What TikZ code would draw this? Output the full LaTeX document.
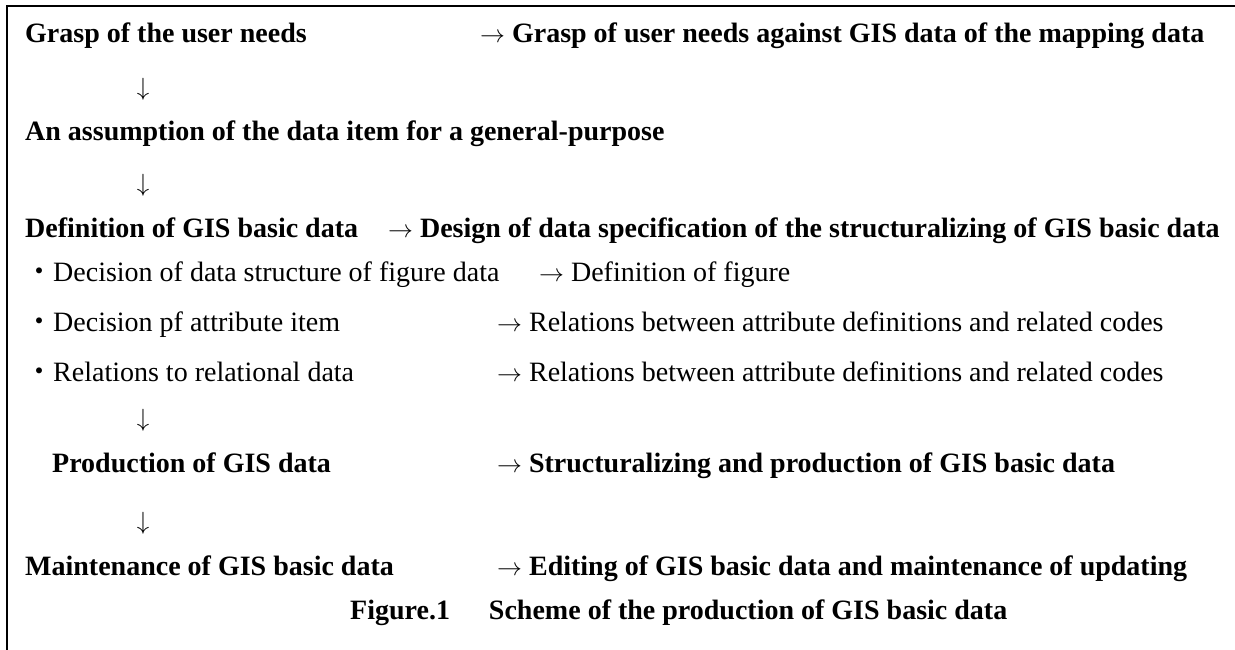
\documentclass[tikz,border=0pt]{standalone}
\usepackage{fontspec}
\setmainfont{Liberation Serif}
\newfontfamily\cjk{Noto Sans CJK JP}
\newcommand{\ra}{{\fontsize{31}{33}\selectfont$\rightarrow$}}
\newcommand{\bul}{{\cjk ・}}
\begin{document}
\begin{tikzpicture}[x=1pt,y=-1pt,
  bl/.style={anchor=base west, inner sep=0pt, font=\fontsize{28}{33}\selectfont\bfseries},
  rg/.style={anchor=base west, inner sep=0pt, font=\fontsize{28}{33}\selectfont},
  darr/.style={anchor=center, inner sep=0pt, font=\fontsize{31}{33}\selectfont},
  frame/.style={line width=2pt}]
\useasboundingbox (0,0) rectangle (1235,650);
\draw[frame] (7,650) -- (7,6) -- (1235,6);

% line 1
\node[bl] (l1) at (25,43) {Grasp of the user needs};
\node[bl] (r1) at (480,43) {\ra\ Grasp of user needs against GIS data of the mapping data};
\node[darr] (d1) at (143,89) {$\downarrow$};
% line 2
\node[bl] (l2) at (25,141) {An assumption of the data item for a general-purpose};
\node[darr] (d2) at (143,185) {$\downarrow$};
% line 3
\node[bl] (l3) at (25,237) {Definition of GIS basic data};
\node[bl] (r3) at (388,237) {\ra\ Design of data specification of the structuralizing of GIS basic data};
% sub items
\node[rg] (l4) at (25,281) {\bul Decision of data structure of figure data};
\node[rg] (r4) at (539,281) {\ra\ Definition of figure};
\node[rg] (l5) at (25,331) {\bul Decision pf attribute item};
\node[rg] (r5) at (497,331) {\ra\ Relations between attribute definitions and related codes};
\node[rg] (l6) at (25,381) {\bul Relations to relational data};
\node[rg] (r6) at (497,381) {\ra\ Relations between attribute definitions and related codes};
\node[darr] (d3) at (143,420) {$\downarrow$};
% production
\node[bl] (l7) at (52,472) {Production of GIS data};
\node[bl] (r7) at (497,472) {\ra\ Structuralizing and production of GIS basic data};
\node[darr] (d4) at (143,523) {$\downarrow$};
% maintenance
\node[bl] (l8) at (25,575) {Maintenance of GIS basic data};
\node[bl] (r8) at (497,575) {\ra\ Editing of GIS basic data and maintenance of updating};
% caption
\node[bl] (cap) at (350,619) {Figure.1\hspace{39pt}Scheme of the production of GIS basic data};
\end{tikzpicture}
\end{document}
